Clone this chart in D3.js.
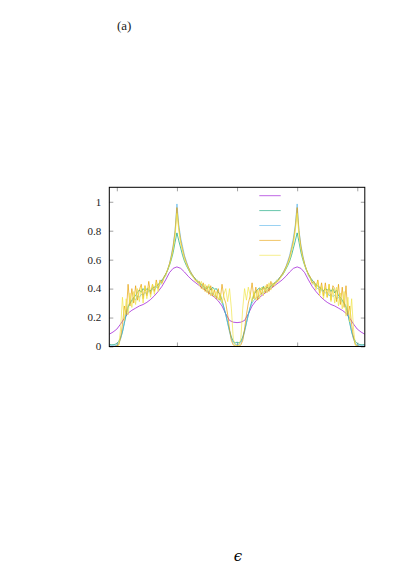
<!DOCTYPE html>
<html>
<head>
<meta charset="utf-8">
<script src="https://cdn.jsdelivr.net/npm/d3@7"></script>
<style>
  body { margin: 0; background: #fff; }
  svg { display: block; }
  .tick-label { font-family: "Liberation Serif", "DejaVu Serif", serif; font-size: 11px; }
</style>
</head>
<body>
<svg id="dos"></svg>
<script>
// coarse energy grid (smooth curve)
var epsCoarse = [-4.25,-4.125,-4.0,-3.875,-3.75,-3.625,-3.5,-3.375,-3.25,-3.125,-3.0,-2.875,-2.75,-2.625,-2.5,-2.375,-2.25,-2.125,-2.0,-1.875,-1.75,-1.625,-1.5,-1.375,-1.25,-1.125,-1.0,-0.875,-0.75,-0.625,-0.5,-0.375,-0.25,-0.125,
  0,
  0.125,0.25,0.375,0.5,0.625,0.75,0.875,1.0,1.125,1.25,1.375,1.5,1.625,1.75,1.875,2.0,2.125,2.25,2.375,2.5,2.625,2.75,2.875,3.0,3.125,3.25,3.375,3.5,3.625,3.75,3.875,4.0,4.125,4.25];

// fine energy grid (noisy curves)
var epsFine = [-4.25,-4.1875,-4.125,-4.0625,-4.0,-3.9375,-3.875,-3.8125,-3.75,-3.6875,-3.625,-3.5625,-3.5,-3.4375,-3.375,-3.3125,-3.25,-3.1875,-3.125,-3.0625,
  -3.0,-2.9375,-2.875,-2.8125,-2.75,-2.6875,-2.625,-2.5625,-2.5,-2.4375,-2.375,-2.3125,-2.25,-2.1875,-2.125,-2.0625,-2.0,-1.9375,-1.875,-1.8125,
  -1.75,-1.6875,-1.625,-1.5625,-1.5,-1.4375,-1.375,-1.3125,-1.25,-1.1875,-1.125,-1.0625,-1.0,-0.9375,-0.875,-0.8125,-0.75,-0.6875,-0.625,-0.5625,
  -0.5,-0.4375,-0.375,-0.3125,-0.25,-0.1875,-0.125,-0.0625,
  0,
  0.0625,0.125,0.1875,0.25,0.3125,0.375,0.4375,0.5,0.5625,0.625,0.6875,0.75,0.8125,0.875,0.9375,1.0,1.0625,1.125,1.1875,1.25,
  1.3125,1.375,1.4375,1.5,1.5625,1.625,1.6875,1.75,1.8125,1.875,1.9375,2.0,2.0625,2.125,2.1875,2.25,2.3125,2.375,2.4375,2.5,
  2.5625,2.625,2.6875,2.75,2.8125,2.875,2.9375,3.0,3.0625,3.125,3.1875,3.25,3.3125,3.375,3.4375,3.5,3.5625,3.625,3.6875,3.75,
  3.8125,3.875,3.9375,4.0,4.0625,4.125,4.1875,4.25];

var purple = [0.085,0.10,0.12,0.155,0.195,0.23,0.25,0.265,0.28,0.29,0.305,0.325,0.35,0.38,0.415,0.46,0.51,0.54,0.55,0.54,0.515,0.485,0.46,0.44,0.42,0.40,0.38,0.36,0.34,0.315,0.28,0.225,0.18,0.168,
  0.165,
  0.168,0.18,0.225,0.28,0.315,0.34,0.36,0.38,0.40,0.42,0.44,0.46,0.485,0.515,0.54,0.55,0.54,0.51,0.46,0.415,0.38,0.35,0.325,0.305,0.29,0.28,0.265,0.25,0.23,0.195,0.155,0.12,0.10,0.085];

var green = [0.015,0.012,0.012,0.015,0.02,0.035,0.06,0.10,0.16,0.22,0.27,0.30,0.32,0.34,0.35,0.375,0.39,0.375,0.40,0.385,
  0.40,0.39,0.385,0.405,0.41,0.415,0.43,0.44,0.46,0.475,0.50,0.525,0.56,0.60,0.65,0.72,0.785,0.73,0.68,0.63,
  0.59,0.56,0.535,0.51,0.49,0.48,0.465,0.45,0.44,0.43,0.42,0.405,0.40,0.415,0.39,0.41,0.395,0.40,0.375,0.36,
  0.32,0.27,0.22,0.165,0.11,0.065,0.035,0.025,
  0.03,
  0.025,0.035,0.065,0.11,0.165,0.22,0.27,0.32,0.36,0.38,0.395,0.405,0.39,0.415,0.395,0.41,0.40,0.42,0.43,0.44,
  0.45,0.465,0.48,0.49,0.51,0.535,0.56,0.59,0.63,0.68,0.73,0.785,0.72,0.65,0.60,0.56,0.525,0.50,0.475,0.46,
  0.44,0.43,0.415,0.41,0.395,0.385,0.40,0.39,0.40,0.38,0.40,0.37,0.39,0.35,0.34,0.32,0.30,0.27,0.22,0.16,
  0.10,0.06,0.035,0.02,0.015,0.012,0.012,0.015];

var blue = [0.005,0.005,0.005,0.005,0.01,0.02,0.05,0.10,0.17,0.23,0.28,0.30,0.31,0.335,0.32,0.35,0.34,0.36,0.355,0.375,
  0.36,0.385,0.375,0.395,0.39,0.41,0.405,0.43,0.44,0.47,0.49,0.53,0.57,0.63,0.70,0.80,0.985,0.84,0.75,0.69,
  0.63,0.59,0.55,0.525,0.50,0.48,0.46,0.45,0.43,0.425,0.405,0.40,0.385,0.38,0.365,0.37,0.35,0.345,0.33,0.32,
  0.30,0.27,0.22,0.16,0.10,0.05,0.025,0.015,
  0.015,
  0.015,0.025,0.05,0.10,0.16,0.22,0.27,0.30,0.32,0.335,0.34,0.355,0.365,0.375,0.38,0.39,0.40,0.41,0.42,0.435,
  0.45,0.46,0.48,0.50,0.525,0.55,0.59,0.63,0.69,0.75,0.84,0.985,0.80,0.70,0.63,0.57,0.53,0.49,0.47,0.44,
  0.43,0.41,0.40,0.395,0.385,0.38,0.37,0.375,0.35,0.36,0.345,0.355,0.33,0.34,0.32,0.31,0.30,0.28,0.23,0.17,
  0.10,0.05,0.02,0.01,0.005,0.005,0.005,0.005];

var orange = [0,0,0,0,0.005,0.01,0.06,0.15,0.28,0.22,
  0.43,0.28,0.40,0.30,0.42,0.32,0.39,0.43,0.33,0.42,0.35,0.45,0.36,0.43,0.38,0.46,0.40,0.46,
  0.44,0.48,0.50,0.53,0.57,0.62,0.69,0.79,0.96,0.82,0.73,0.67,0.62,0.58,0.55,0.52,0.50,0.48,0.46,0.44,
  0.45,0.40,0.44,0.38,0.42,0.36,0.42,0.35,0.39,0.33,0.40,0.32,0.43,0.34,
  0.30,0.22,0.12,0.04,0.01,0.003,
  0.003,
  0.003,0.01,0.04,0.12,0.22,0.30,
  0.35,0.44,0.33,0.41,0.32,0.40,0.36,0.41,0.37,0.43,0.38,0.45,0.41,0.44,
  0.44,0.46,0.48,0.50,0.52,0.55,0.58,0.62,0.67,0.73,0.82,0.96,0.79,0.69,0.62,0.57,0.53,0.50,0.48,0.44,
  0.45,0.41,0.46,0.37,0.44,0.35,0.44,0.34,0.43,0.32,0.42,0.40,0.31,0.43,0.29,0.41,0.27,0.42,
  0.22,0.28,0.15,0.06,0.01,0.005,0,0,0,0];

var yellow = [0,0,0,0,0,0.01,0.12,
  0.34,0.18,0.33,0.22,0.37,0.27,0.38,0.29,0.40,0.31,0.41,0.30,0.42,0.33,0.41,0.34,0.43,0.36,0.44,0.38,0.45,
  0.43,0.47,0.49,0.53,0.56,0.61,0.67,0.76,0.92,0.80,0.71,0.66,0.60,0.57,0.54,0.51,0.49,0.47,0.45,0.46,
  0.42,0.45,0.39,0.43,0.37,0.43,0.35,0.40,0.34,0.38,0.32,0.37,0.30,0.36,0.40,0.31,
  0.40,0.26,0.05,0.01,
  0.005,
  0.01,0.05,0.26,0.40,
  0.32,0.41,0.35,0.31,0.38,0.32,0.39,0.33,0.41,0.35,0.42,0.37,0.44,0.39,0.44,0.42,
  0.46,0.45,0.47,0.49,0.51,0.54,0.57,0.60,0.66,0.71,0.80,0.92,0.76,0.67,0.61,0.56,0.53,0.49,0.47,0.43,
  0.44,0.39,0.45,0.35,0.42,0.33,0.41,0.34,0.43,0.31,0.40,0.30,0.41,0.28,0.37,0.26,0.38,0.21,0.34,0.17,0.33,
  0.12,0.01,0,0,0,0,0];

var seriesColors = ["#9400d3", "#009e73", "#56b4e9", "#e69f00", "#f0e442"];
var yTicks = [0, 0.2, 0.4, 0.6, 0.8, 1];
var yTickLabels = ["0", "0.2", "0.4", "0.6", "0.8", "1"];
var xTicks = [-4, -2, 0, 2, 4];

var series = [
  {grid: epsCoarse, values: purple},
  {grid: epsFine, values: green},
  {grid: epsFine, values: blue},
  {grid: epsFine, values: orange},
  {grid: epsFine, values: yellow}
];

series.forEach(function(s, i) {
  if (s.grid.length !== s.values.length)
    throw new Error("series " + i + ": " + s.values.length + " values vs " + s.grid.length + " grid");
});

var W = 411, H = 567;
var plot = {left: 109.3, right: 364.8, top: 187.3, bottom: 346.5};

var svg = d3.select("svg#dos").attr("width", W).attr("height", H);

var x = d3.scaleLinear().domain([-4.25, 4.25]).range([plot.left, plot.right]);
var y = d3.scaleLinear().domain([0, 1.1]).range([plot.bottom, plot.top]);

svg.append("clipPath").attr("id", "clip")
  .append("rect")
  .attr("x", plot.left).attr("y", plot.top)
  .attr("width", plot.right - plot.left).attr("height", plot.bottom - plot.top);

// ticks (inward, mirrored)
var tickLen = 4;
var axes = svg.append("g").attr("stroke-width", 0.8);

axes.append("g").call(d3.axisLeft(y).tickValues(yTicks).tickSize(-tickLen).tickFormat(""))
  .attr("transform", "translate(" + plot.left + ",0)");
axes.append("g").call(d3.axisRight(y).tickValues(yTicks).tickSize(-tickLen).tickFormat(""))
  .attr("transform", "translate(" + plot.right + ",0)");
axes.append("g").call(d3.axisBottom(x).tickValues(xTicks).tickSize(-tickLen).tickFormat(""))
  .attr("transform", "translate(0," + plot.bottom + ")");
axes.append("g").call(d3.axisTop(x).tickValues(xTicks).tickSize(-tickLen).tickFormat(""))
  .attr("transform", "translate(0," + plot.top + ")");
axes.selectAll(".domain").remove();
axes.selectAll(".tick line").attr("stroke", "#8a8a8a");

// y tick labels
svg.append("g").selectAll("text")
  .data(yTicks)
  .enter().append("text")
  .attr("class", "tick-label")
  .attr("x", plot.left - 8)
  .attr("y", function(d) { return y(d); })
  .attr("dy", "0.35em")
  .attr("text-anchor", "end")
  .attr("fill", "#222")
  .text(function(d, i) { return yTickLabels[i]; });

// curves
var line = d3.line()
  .x(function(d) { return x(d[0]); })
  .y(function(d) { return y(d[1]); });

svg.append("g").attr("clip-path", "url(#clip)")
  .selectAll(".curve")
  .data(series)
  .enter().append("path")
  .attr("class", "curve")
  .attr("fill", "none")
  .attr("stroke", function(d, i) { return seriesColors[i]; })
  .attr("stroke-width", 0.75)
  .attr("stroke-opacity", 0.9)
  .attr("stroke-linejoin", "round")
  .attr("d", function(s) { return line(d3.zip(s.grid, s.values)); });

// legend (line samples only)
svg.append("g").selectAll("line")
  .data(seriesColors)
  .enter().append("line")
  .attr("x1", 259.3).attr("x2", 280.7)
  .attr("y1", function(d, i) { return 195.7 + i * 14.9; })
  .attr("y2", function(d, i) { return 195.7 + i * 14.9; })
  .attr("stroke", function(d) { return d; })
  .attr("stroke-width", 0.75)
  .attr("stroke-opacity", 0.8);

// border
svg.append("rect")
  .attr("x", plot.left).attr("y", plot.top)
  .attr("width", plot.right - plot.left).attr("height", plot.bottom - plot.top)
  .attr("fill", "none").attr("stroke", "#000").attr("stroke-width", 1);

// panel label and axis label
svg.append("text")
  .attr("x", 117).attr("y", 29.5)
  .attr("font-family", "Liberation Serif, DejaVu Serif, serif")
  .attr("font-size", 13)
  .attr("fill", "#222")
  .text("(a)");

svg.append("text")
  .attr("x", 238).attr("y", 560.5)
  .attr("text-anchor", "middle")
  .attr("font-family", "DejaVu Serif, serif")
  .attr("font-style", "italic")
  .attr("font-size", 15)
  .text("ϵ");
</script>
</body>
</html>
